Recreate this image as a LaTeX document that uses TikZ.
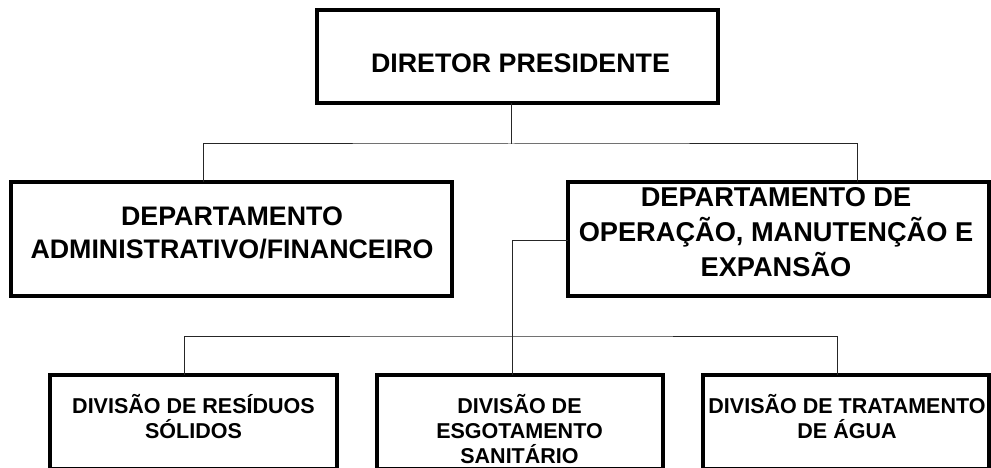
\documentclass[tikz,border=0pt]{standalone}
\usepackage{fontspec}
\setmainfont{Liberation Sans}
\begin{document}
\begin{tikzpicture}[x=1pt,y=-1pt,
  orgbox/.style={draw=black,line width=3.5pt,inner sep=0pt,outer sep=0pt,fill=white},
  conn/.style={draw=black!85,line width=1pt},
  bigtxt/.style={inner sep=0pt,anchor=base,align=center,font=\fontsize{26.8}{33}\selectfont\bfseries},
  midtxt/.style={inner sep=0pt,anchor=base,align=center,font=\fontsize{27.2}{35}\selectfont\bfseries},
  smalltxt/.style={inner sep=0pt,anchor=base,align=center,font=\fontsize{21.5}{25}\selectfont\bfseries}]
\useasboundingbox (0,0) rectangle (991,468);
% boxes
\node[orgbox,minimum width=401pt,minimum height=93pt] (dp) at (517.5,56.5) {};
\node[orgbox,minimum width=441pt,minimum height=114pt] (adm) at (231.5,239) {};
\node[orgbox,minimum width=421pt,minimum height=114pt] (ope) at (778.5,239) {};
\node[orgbox,minimum width=287pt,minimum height=94pt] (res) at (193.5,422) {};
\node[orgbox,minimum width=286pt,minimum height=94pt] (esg) at (520,422) {};
\node[orgbox,minimum width=286pt,minimum height=94pt] (agu) at (846,422) {};
% texts (base anchor = baseline of last line)
\node[bigtxt] (tdp) at (520.5,73) {DIRETOR PRESIDENTE};
\node[bigtxt] (tadm) at (232,258) {DEPARTAMENTO\\ADMINISTRATIVO/FINANCEIRO};
\node[midtxt] (tope) at (776,276.7) {DEPARTAMENTO DE\\OPERAÇÃO, MANUTENÇÃO E\\EXPANSÃO};
\node[smalltxt] (tres) at (193.5,438) {DIVISÃO DE RESÍDUOS\\SÓLIDOS};
\node[smalltxt] (tesg) at (519.5,463) {DIVISÃO DE\\ESGOTAMENTO\\SANITÁRIO};
\node[smalltxt] (tagu) at (847,438) {DIVISÃO DE TRATAMENTO\\DE ÁGUA};
% connector points
\coordinate (j1) at (511,144);
\coordinate (j2) at (512,336);
% connectors
\draw[conn] (dp.south -| j1) -- (j1);
\draw[conn] (adm.north -| 203,0) |- (j1) -| (ope.north -| 857,0);
\draw[conn] (ope.west |- 0,240) -| (esg.north -| j2);
\draw[conn] (res.north -| 184,0) |- (j2) -| (agu.north -| 837,0);
\end{tikzpicture}
\end{document}
